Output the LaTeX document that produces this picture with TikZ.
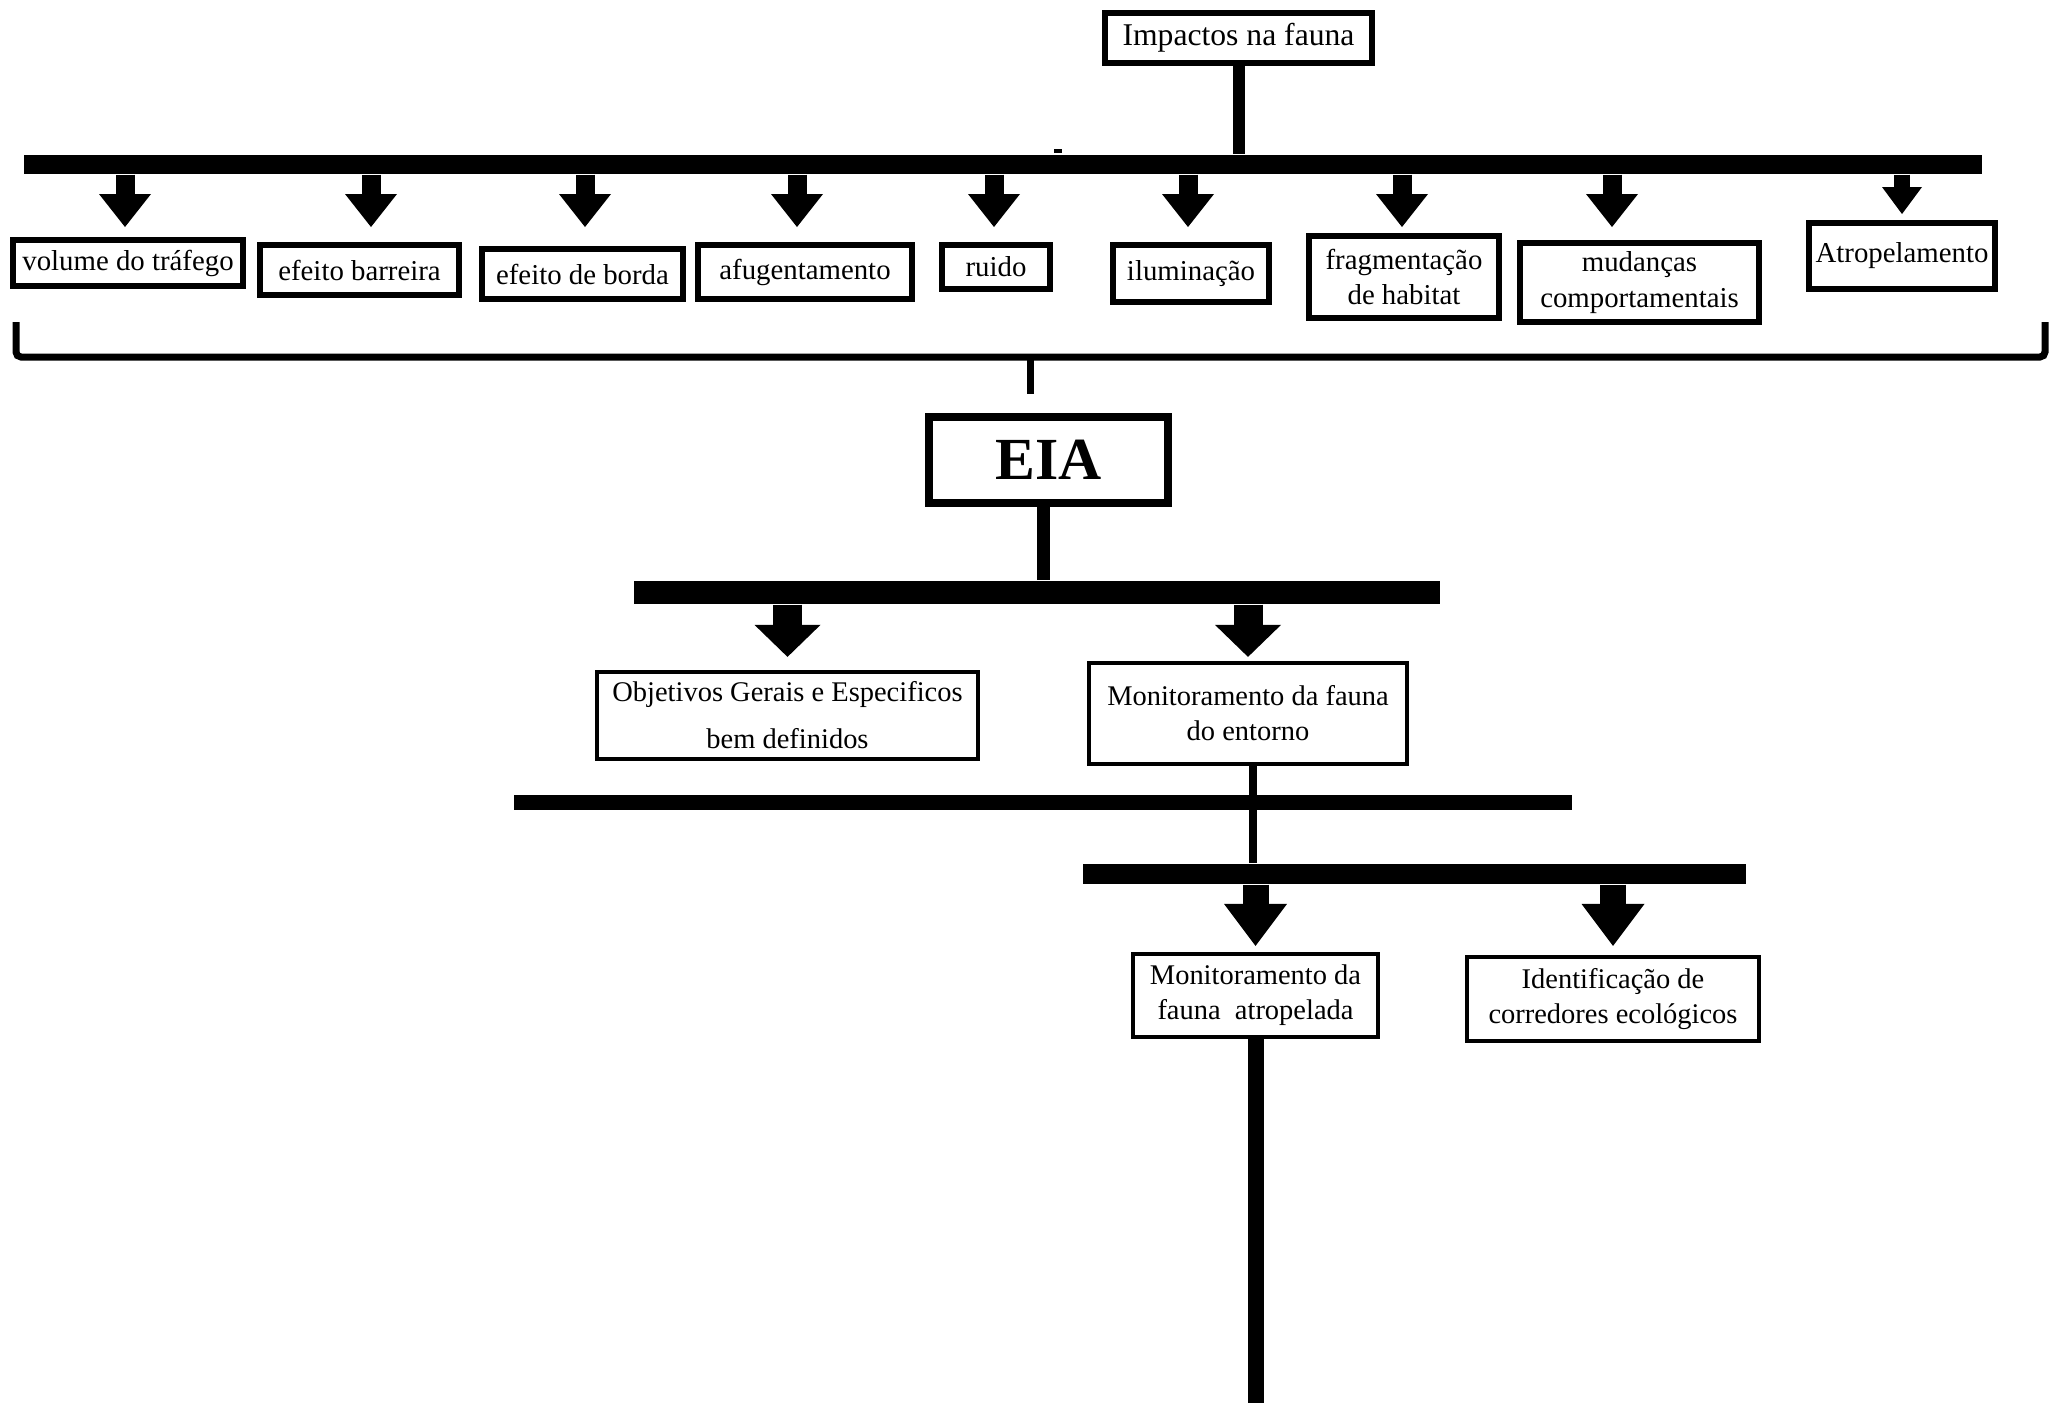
\documentclass[tikz,border=0pt]{standalone}
\usepackage{fontspec}
\setmainfont{Liberation Serif}
\usetikzlibrary{arrows.meta, positioning}

\begin{document}
\begin{tikzpicture}[
    box/.style={draw, line width=1.7pt, inner sep=0pt, align=center, font=\fontsize{8.2}{10}\selectfont},
    subbox/.style={draw, line width=1.2pt, inner sep=0pt, align=center, font=\fontsize{8.1}{10}\selectfont},
    bar/.style={fill=black, inner sep=0pt, minimum height=0.2cm},
    stem/.style={line width=0.12cm},
    down/.style={-{Triangle[width=0.52cm, length=0.33cm, line width=0pt]}, line width=0.19cm},
    downsm/.style={-{Triangle[width=0.40cm, length=0.27cm, line width=0pt]}, line width=0.16cm},
    downbig/.style={-{Triangle[width=0.66cm, length=0.32cm, line width=0pt]}, line width=0.29cm},
    downlow/.style={-{Triangle[width=0.63cm, length=0.42cm, line width=0pt]}, line width=0.26cm}
]
\useasboundingbox (0,0) rectangle (20.58,-14.03);

% Impacts
\node[box, font=\fontsize{9}{11}\selectfont, minimum width=2.67cm, minimum height=0.50cm] (imp) at (12.385,-0.38) {Impactos na fauna};
\node[bar, minimum width=19.58cm, minimum height=0.19cm] (top) at (10.03,-1.645) {};
\draw[line width=0.04cm] (10.54,-1.51) -- (10.62,-1.51);

\node[box, minimum width=2.30cm, minimum height=0.46cm] (vol) at (1.28,-2.63) {volume do tráfego};
\node[box, minimum width=1.99cm, minimum height=0.50cm] (barr) at (3.595,-2.70) {efeito barreira};
\node[box, minimum width=2.01cm, minimum height=0.50cm] (bor) at (5.825,-2.74) {efeito de borda};
\node[box, minimum width=2.14cm, minimum height=0.54cm] (afu) at (8.05,-2.72) {afugentamento};
\node[box, minimum width=1.08cm, minimum height=0.44cm] (rui) at (9.96,-2.67) {ruido};
\node[box, minimum width=1.56cm, minimum height=0.57cm] (ilu) at (11.91,-2.735) {iluminação};
\node[box, minimum width=1.90cm, minimum height=0.82cm] (fra) at (14.04,-2.77) {fragmentação\\de habitat};
\node[box, minimum width=2.39cm, minimum height=0.79cm] (mud) at (16.395,-2.825) {mudanças\\comportamentais};
\node[box, minimum width=1.86cm, minimum height=0.66cm] (atr) at (19.02,-2.56) {Atropelamento};

\draw[stem] (imp.south) -- (imp.south |- top.north);
\foreach \n/\g/\dx in {vol/0.10/-0.03, barr/0.15/0.115, bor/0.19/0.025, afu/0.15/-0.08, rui/0.15/-0.02, ilu/0.15/-0.03, fra/0.06/-0.02, mud/0.13/-0.275} {
    \coordinate (\n-tip) at ([xshift=\dx cm]\n.north);
    \draw[down, shorten >=\g cm] (top.south -| \n-tip) -- (\n-tip);
}
\draw[downsm, shorten >=0.06cm] (top.south -| atr.north) -- (atr.north);

% Bracket
\coordinate (brace) at (10.30,-3.57);
\draw[line width=0.07cm, rounded corners=0.05cm] (0.16,-3.22) -- (0.16,-3.57) -- (20.45,-3.57) -- (20.45,-3.22);
\draw[line width=0.07cm] (brace) -- ++(0,-0.37);

% EIA
\node[draw, line width=2.3pt, inner sep=0pt, minimum width=2.39cm, minimum height=0.86cm, font=\fontsize{17}{20}\selectfont\bfseries] (eia) at (10.485,-4.60) {EIA};
\node[bar, minimum width=8.06cm, minimum height=0.23cm] (mid) at (10.37,-5.925) {};
\draw[line width=0.13cm] ([xshift=-0.05cm]eia.south) -- ([xshift=-0.05cm]eia.south |- mid.north);

\node[subbox, minimum width=3.81cm, minimum height=0.87cm] (obj) at (7.875,-7.155) {Objetivos Gerais e Especificos\\[0.12cm]bem definidos};
\node[subbox, minimum width=3.18cm, minimum height=1.01cm] (ent) at (12.48,-7.135) {Monitoramento da fauna\\do entorno};
\draw[downbig, shorten >=0.13cm] (mid.south -| obj.north) -- (obj.north);
\draw[downbig, shorten >=0.04cm] (mid.south -| ent.north) -- (ent.north);

% Monitoring
\node[bar, minimum width=10.58cm, minimum height=0.15cm] (cross) at (10.43,-8.025) {};
\node[bar, minimum width=6.63cm, minimum height=0.20cm] (low) at (14.145,-8.74) {};
\draw[line width=0.08cm] ([xshift=0.05cm]ent.south) -- ([xshift=0.05cm]ent.south |- low.north);

\node[subbox, minimum width=2.45cm, minimum height=0.83cm] (atp) at (12.555,-9.955) {Monitoramento da\\fauna~~atropelada};
\node[subbox, minimum width=2.92cm, minimum height=0.84cm] (cor) at (16.13,-9.99) {Identificação de\\corredores ecológicos};
\draw[downlow, shorten >=0.06cm] (low.south -| atp.north) -- (atp.north);
\draw[downlow, shorten >=0.09cm] (low.south -| cor.north) -- (cor.north);

\coordinate (end) at (12.53,-14.03);
\draw[line width=0.16cm] (atp.south) -- (atp.south |- end);

\end{tikzpicture}
\end{document}
